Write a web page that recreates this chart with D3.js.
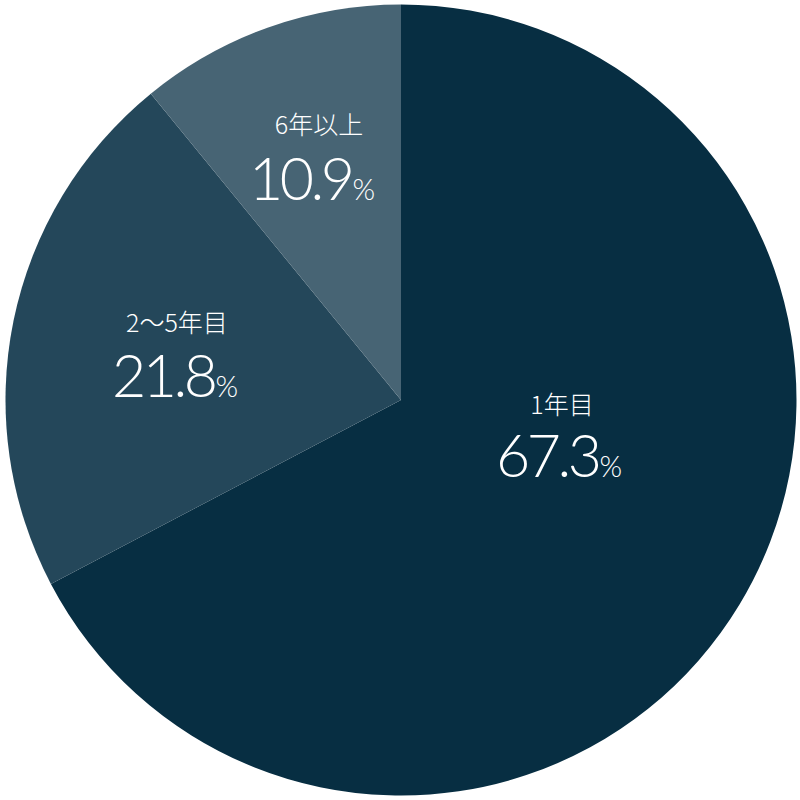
<!DOCTYPE html>
<html><head><meta charset="utf-8">
<script src="https://cdn.jsdelivr.net/npm/d3@7/dist/d3.min.js"></script>
<style>html,body{margin:0;padding:0;background:#fff;}svg{display:block;}</style>
</head><body>
<svg id="chart" width="800" height="800"></svg>
<script>
const categories = ["1年目", "2〜5年目", "6年以上"];
const values = [67.3, 21.8, 10.9];
const colors = ["#072e42", "#24475a", "#476474"];
// label anchor positions (layout): [labelX, labelY, valueX, valueY]
const labelPos = [[562, 414, 559, 477], [177, 332, 175, 397], [319, 134, 312, 200]];

const svg = d3.select("#chart");
const cx = 401, cy = 400, R = 395.5;
const g = svg.append("g").attr("transform", `translate(${cx},${cy})`);
const pie = d3.pie().sort(null).value(d => d)(values);
const arc = d3.arc().innerRadius(0).outerRadius(R);
g.selectAll("path").data(pie).join("path")
  .attr("d", arc).attr("fill", (d, i) => colors[i]);

const font = "Lato, 'Noto Sans CJK JP', sans-serif";
categories.forEach((c, i) => {
  const [x1, y1, x2, y2] = labelPos[i];
  svg.append("text").attr("x", x1).attr("y", y1).attr("text-anchor", "middle")
    .attr("fill", "#fff").attr("font-family", "'Noto Sans CJK JP', sans-serif")
    .attr("font-weight", 300).attr("font-size", 25).text(c);
  const t = svg.append("text").attr("x", x2).attr("y", y2).attr("text-anchor", "middle")
    .attr("fill", "#fff").attr("font-family", font).attr("font-weight", 300);
  t.append("tspan").attr("font-size", 59).attr("letter-spacing", -3.5).text(values[i].toFixed(1));
  t.append("tspan").attr("font-size", 29).attr("dx", 1).text("%");
});
</script>
</body></html>
